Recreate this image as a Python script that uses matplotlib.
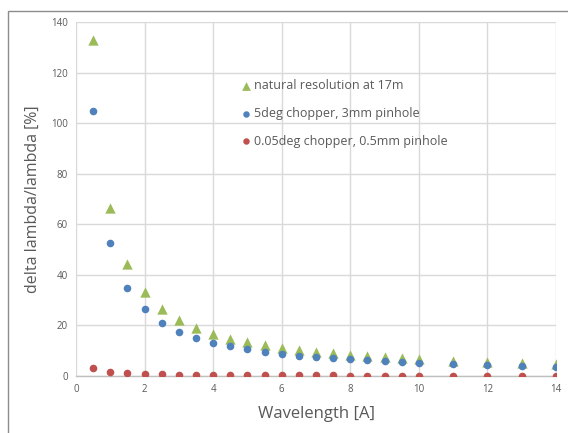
import matplotlib
matplotlib.use("Agg")
import matplotlib.pyplot as plt
from matplotlib.patches import Rectangle

wavelength = [0.5, 1, 1.5, 2, 2.5, 3, 3.5, 4, 4.5, 5, 5.5, 6, 6.5, 7, 7.5, 8,
              8.5, 9, 9.5, 10, 11, 12, 13, 14]
natural = [133, 66.5, 44.3, 33.2, 26.6, 22.2, 19.0, 16.6, 14.8, 13.3, 12.1, 11.1,
           10.2, 9.5, 8.9, 8.3, 7.8, 7.4, 7.0, 6.65, 6.0, 5.5, 5.1, 4.75]
chopper5 = [105, 52.5, 35.0, 26.3, 21.0, 17.5, 15.0, 13.1, 11.7, 10.5, 9.5, 8.75,
            8.1, 7.5, 7.0, 6.6, 6.2, 5.8, 5.5, 5.25, 4.8, 4.4, 4.0, 3.75]
chopper005 = [3.0, 1.5, 1.0, 0.75, 0.6, 0.5, 0.43, 0.38, 0.33, 0.3, 0.27, 0.25,
              0.23, 0.21, 0.2, 0.19, 0.18, 0.17, 0.16, 0.15, 0.14, 0.13, 0.12, 0.11]
labels = ["natural resolution at 17m", "5deg chopper, 3mm pinhole",
          "0.05deg chopper, 0.5mm pinhole"]
xticks = [0, 2, 4, 6, 8, 10, 12, 14]
yticks = [0, 20, 40, 60, 80, 100, 120, 140]

plt.rcParams['font.family'] = ['Open Sans', 'DejaVu Sans']

W, H = 568, 433
fig = plt.figure(figsize=(W / 100, H / 100), dpi=100)
ax = fig.add_axes([76 / W, 1 - 376 / H, (556 - 76) / W, (376 - 22) / H])

green = '#9BBB59'
blue = '#4F81BD'
red = '#C0504D'
txt = '#595959'

ax.scatter(wavelength, natural, marker='^', s=55, color=green, zorder=3,
           label=labels[0], linewidths=0)
ax.scatter(wavelength, chopper5, marker='o', s=30, color=blue, zorder=3,
           label=labels[1], linewidths=0)
ax.scatter(wavelength, chopper005, marker='o', s=30, color=red, zorder=3,
           label=labels[2], linewidths=0)

ax.set_xlim(0, 14)
ax.set_ylim(0, 140)
ax.set_xticks(xticks)
ax.set_yticks(yticks)
ax.grid(True, color='#d9d9d9', linewidth=1.0)
ax.set_axisbelow(True)
for s in ['top', 'right', 'left']:
    ax.spines[s].set_visible(False)
ax.spines['bottom'].set_color('#bfbfbf')
ax.spines['bottom'].set_linewidth(1.0)
ax.tick_params(length=0, labelsize=7, colors=txt, pad=6)

ax.set_xlabel('Wavelength [A]', fontsize=12, color=txt, labelpad=8)
ax.set_ylabel('delta lambda/lambda [%]', fontsize=11.5, color=txt, labelpad=7)

leg = ax.legend(loc='upper left', bbox_to_anchor=(234 / W, 1 - 73 / H),
                bbox_transform=fig.transFigure, frameon=False, fontsize=9,
                labelspacing=1.18, handletextpad=0.2, handlelength=0.9,
                borderpad=0, scatterpoints=1, markerscale=0.85)
for t in leg.get_texts():
    t.set_color(txt)

# outer frame of the chart area (cropped)
fig.add_artist(Rectangle((8 / W, -0.1), 1.2, 1 - 11 / H + 0.1,
                         transform=fig.transFigure, fill=False,
                         edgecolor='#8c8c8c', linewidth=1.0))

fig.savefig('out.png', dpi=100)
